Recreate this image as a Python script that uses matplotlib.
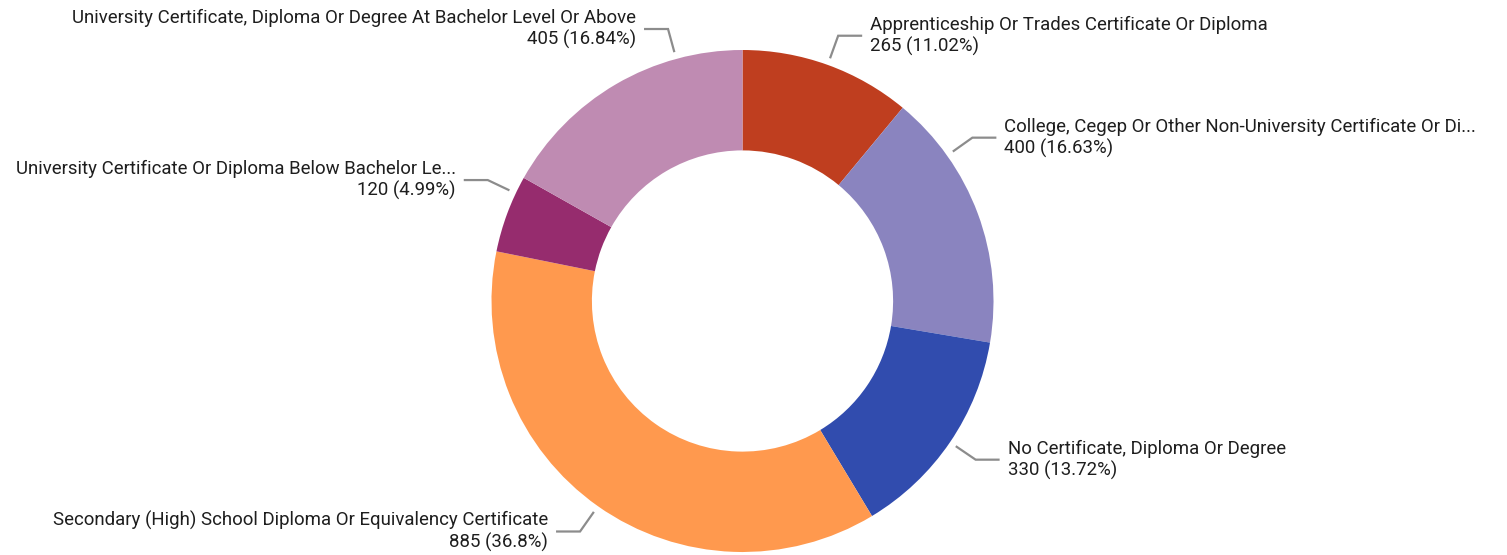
import matplotlib
matplotlib.use('Agg')
import matplotlib.pyplot as plt
import numpy as np

categories = [
    "Apprenticeship Or Trades Certificate Or Diploma",
    "College, Cegep Or Other Non-University Certificate Or Di...",
    "No Certificate, Diploma Or Degree",
    "Secondary (High) School Diploma Or Equivalency Certificate",
    "University Certificate Or Diploma Below Bachelor Le...",
    "University Certificate, Diploma Or Degree At Bachelor Level Or Above",
]
values = [265, 400, 330, 885, 120, 405]
colors = ["#BF3E1F", "#8A84BF", "#314CAE", "#FF994E", "#962C6E", "#BF8BB2"]

# layout: shift of the leader-line angle from the wedge mid-angle (degrees)
angle_shift = [0, 15, 0, 0, -5, -15]

W, H = 1507, 555
fig = plt.figure(figsize=(W / 100, H / 100), dpi=100)
ax = fig.add_axes([0, 0, 1, 1])
cx, cy = 742.5, H - 301
R = 251
wedges, _ = ax.pie(values, colors=colors, startangle=90, counterclock=False,
                   radius=R, center=(cx, cy),
                   wedgeprops=dict(width=0.4 * R, linewidth=0))
ax.set_xlim(0, W)
ax.set_ylim(0, H)
ax.set_aspect('equal')
ax.axis('off')

total = sum(values)
r0, r1, hlen, gap = R + 7, 282, 24, 8
for w, cat, val, sh in zip(wedges, categories, values, angle_shift):
    mid = (w.theta1 + w.theta2) / 2 + sh
    a = np.deg2rad(mid)
    x0, y0 = cx + r0 * np.cos(a), cy + r0 * np.sin(a)
    x1, y1 = cx + r1 * np.cos(a), cy + r1 * np.sin(a)
    side = 1 if np.cos(a) >= 0 else -1
    x2 = x1 + side * hlen
    ax.plot([x0, x1, x2], [y0, y1, y1], color="#8C8C8C", lw=1.6,
            solid_capstyle='butt', solid_joinstyle='miter')
    pct = f"{val / total * 100:.2f}".rstrip('0').rstrip('.')
    txt = f"{cat}\n{val} ({pct}%)"
    ax.text(x2 + side * gap, y1, txt, ha='left' if side > 0 else 'right',
            va='center', multialignment='left' if side > 0 else 'right',
            fontsize=13.4, family='Roboto', color="#1E1E1E", linespacing=1.2)

fig.savefig("out.png", dpi=100)
